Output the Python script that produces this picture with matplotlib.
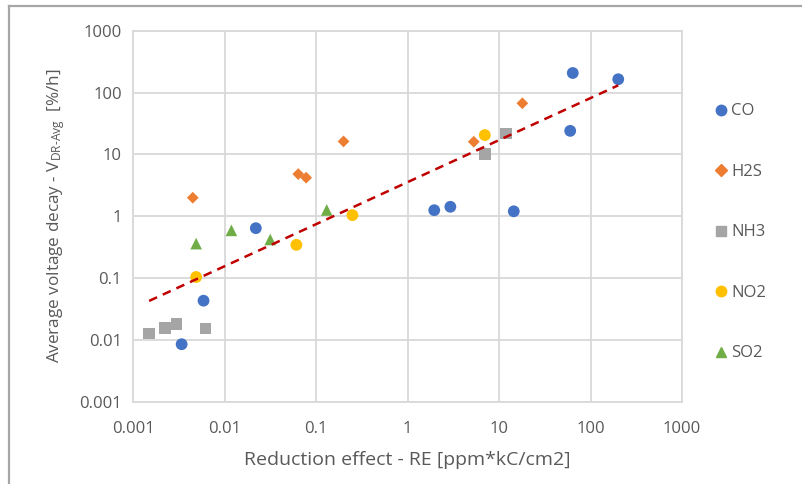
import numpy as np
import matplotlib
matplotlib.use("Agg")
import matplotlib.pyplot as plt
from matplotlib.lines import Line2D

plt.rcParams['font.family'] = ['Open Sans', 'DejaVu Sans']
plt.rcParams['mathtext.fontset'] = 'custom'
plt.rcParams['mathtext.rm'] = 'Open Sans'
plt.rcParams['mathtext.it'] = 'Open Sans'

# Reduction effect RE [ppm*kC/cm2] and average voltage decay [%/h] per contaminant
co_x = [0.0034, 0.0059, 0.022, 1.96, 2.94, 14.5, 60, 64, 201]
co_y = [0.0085, 0.043, 0.64, 1.25, 1.42, 1.2, 24, 207, 164]

h2s_x = [0.0045, 0.064, 0.078, 0.20, 5.3, 18]
h2s_y = [1.99, 4.8, 4.2, 16.2, 16.0, 67]

nh3_x = [0.0015, 0.00225, 0.0030, 0.0062, 7.0, 11.9]
nh3_y = [0.0127, 0.0156, 0.018, 0.0153, 10.1, 21.9]

no2_x = [0.0049, 0.061, 0.25, 7.0]
no2_y = [0.104, 0.344, 1.04, 20.5]

so2_x = [0.0049, 0.0119, 0.0316, 0.131]
so2_y = [0.36, 0.59, 0.42, 1.26]

# Power-law trend line endpoints
trend_x = [0.0015, 201]
trend_a = 3.55
trend_b = 0.68

series = [
    ("CO", co_x, co_y, "o", "#4472C4", 72),
    ("H2S", h2s_x, h2s_y, "D", "#ED7D31", 36),
    ("NH3", nh3_x, nh3_y, "s", "#A5A5A5", 68),
    ("NO2", no2_x, no2_y, "o", "#FFC000", 72),
    ("SO2", so2_x, so2_y, "^", "#70AD47", 70),
]

W, H = 802, 484
fig = plt.figure(figsize=(W / 100, H / 100), dpi=100)

# outer chart frame (left and top edges visible)
fig.add_artist(Line2D([9 / W, 9 / W], [0, 1 - 5.5 / H], transform=fig.transFigure,
                      color="#A6A6A6", lw=1.6))
fig.add_artist(Line2D([9 / W, 1], [1 - 5.5 / H, 1 - 5.5 / H], transform=fig.transFigure,
                      color="#A6A6A6", lw=1.6))

L, R, T, B = 133, 682, 30.7, 401.7
ax = fig.add_axes([L / W, 1 - B / H, (R - L) / W, (B - T) / H])
ax.set_xscale("log")
ax.set_yscale("log")
ax.set_xlim(0.001, 1000)
ax.set_ylim(0.001, 1000)

ticks = [0.001, 0.01, 0.1, 1, 10, 100, 1000]
tick_labels = ["0.001", "0.01", "0.1", "1", "10", "100", "1000"]
ax.set_xticks(ticks)
ax.set_xticklabels(tick_labels)
ax.set_yticks(ticks)
ax.set_yticklabels(tick_labels)
ax.minorticks_off()
ax.tick_params(length=0, labelsize=12, colors="#595959", pad=8)
ax.tick_params(axis="x", pad=14)
ax.grid(True, color="#D9D9D9", lw=1.3)
ax.set_axisbelow(True)
for sp in ax.spines.values():
    sp.set_color("#D9D9D9")
    sp.set_linewidth(1.3)

handles = []
for name, xs, ys, mk, col, s in series:
    ax.scatter(xs, ys, marker=mk, s=s, color=col, edgecolors="none", zorder=3)
    handles.append(Line2D([], [], marker=mk, color=col, ls="none",
                          markersize=7.5 if mk != "D" else 5.8, label=name))

tx = np.array(trend_x)
ax.plot(tx, trend_a * tx ** trend_b, color="#C00000", ls=(0, (3.5, 2.5)), lw=1.8, zorder=4)

ax.set_xlabel("Reduction effect - RE [ppm*kC/cm2]", fontsize=14, color="#595959", labelpad=10)
ax.set_ylabel(r"Average voltage decay - V$_{\mathregular{DR\text{-}Avg}}$  [%/h]",
              fontsize=12.3, color="#595959", labelpad=9)

leg = fig.legend(handles=handles, loc="upper left", bbox_to_anchor=(704.5 / W, 1 - 95 / H),
                 frameon=False, fontsize=12, labelcolor="#595959",
                 handlelength=1.0, handletextpad=0.1, labelspacing=2.67,
                 borderpad=0)

fig.savefig("out.png", dpi=100)
